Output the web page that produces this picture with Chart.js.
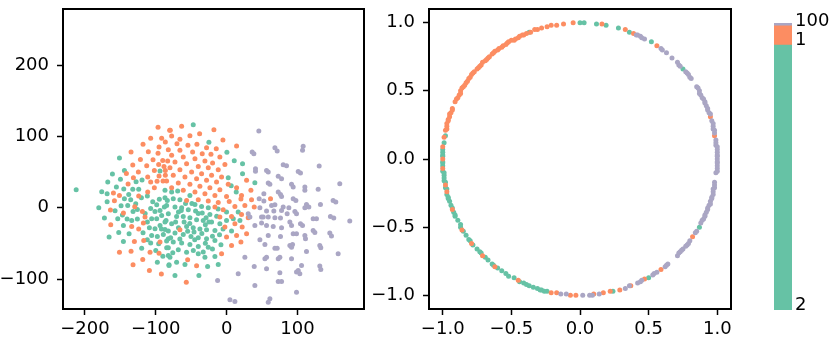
<!DOCTYPE html>
<html>
<head>
<meta charset="utf-8">
<script src="https://cdn.jsdelivr.net/npm/chart.js@4.4.1/dist/chart.umd.min.js"></script>
<style>
  html, body { margin: 0; padding: 0; background: #fff; }
  #wrap { position: relative; width: 831px; height: 340px; overflow: hidden; }
  canvas { position: absolute; top: 0; }
</style>
</head>
<body>
<div id="wrap">
  <canvas id="chartTsne" width="370" height="340" style="left:0"></canvas>
  <canvas id="chartRing" width="390" height="340" style="left:370px"></canvas>
  <canvas id="chartBar" width="71" height="340" style="left:760px"></canvas>
</div>
<script>
/* ── data ─────────────────────────────────────────────────────── */
const classNames = ['2', '1', '100'];

// left panel: 2-d embedding, one list per class
const tsneGreen = [
  [-212.4,25.2],[-151.3,69.6],[-161.2,47.2],[-144.3,52.3],[-167.8,35.9],[-176.3,22.4],[-168.7,19.6],[-149.9,39.7],
  [-155.6,28.9],[-180.5,-0.1],[-168.7,8.3],[-172.5,-14.6],[-157.5,-4.3],[-165.9,-41.2],[-153.7,-15.5],[-145.7,-24.9],
  [-152.3,-34.7],[-145.7,-47.3],[-137.7,-36.5],[-140.5,-16.0],[-147.1,-10.4],[-149.0,2.7],[-144.3,12.6],[-145.2,26.1],
  [-138.2,18.6],[-132.5,25.7],[-127.8,36.4],[-119.4,38.8],[-124.1,25.7],[-120.3,14.0],[-128.3,5.5],[-135.4,11.2],
  [-139.6,3.2],[-132.1,-5.2],[-126.0,-2.4],[-126.0,-16.0],[-134.0,-17.8],[-119.9,-56.7],[-107.2,-49.6],[-97.8,-76.3],
  [-81.3,-80.0],[-111.9,16.3],[-104.3,8.3],[-98.7,4.1],[-107.2,-1.0],[-101.1,-5.2],[-94.0,-3.8],[-87.9,0.9],
  [-83.7,10.2],[-111.9,-20.2],[-105.8,-15.5],[-98.7,-15.5],[-91.7,-10.8],[-85.5,-17.8],[-109.0,-28.1],[-101.1,-29.5],
  [-94.0,-24.9],[-87.0,-30.5],[-105.8,-38.9],[-97.8,-40.3],[-89.3,-37.5],[-82.3,-43.6],[-95.9,-50.6],[-84.6,-56.2],
  [-82.3,-66.9],[-94.0,51.4],[-47.1,116.4],[-25.0,91.6],[0.4,77.6],[10.8,65.9],[22.5,61.7],[2.3,42.0],
  [22.5,47.6],[39.9,35.0],[6.5,30.8],[13.6,21.9],[-87.0,24.3],[-77.6,21.9],[-69.1,23.3],[-51.8,17.2],
  [-87.0,14.0],[-75.3,12.6],[-65.9,11.2],[-44.7,4.6],[-35.3,1.8],[-25.9,-0.1],[-84.7,3.2],[-72.9,0.9],
  [-63.5,-0.1],[-54.1,-2.9],[-43.8,-4.7],[-34.4,-7.5],[-23.6,-9.4],[-0.1,-6.1],[16.4,-6.1],[-82.3,-8.5],
  [-70.6,-12.2],[-61.2,-12.2],[-51.8,-14.1],[-42.4,-16.9],[-33.0,-17.8],[-21.2,-20.2],[-9.5,-22.5],[-0.1,-17.8],
  [9.4,-15.5],[18.8,-17.8],[-87.0,-20.2],[-77.6,-22.5],[-56.5,-26.3],[-47.1,-28.1],[-37.7,-30.0],[-28.3,-30.9],
  [-16.5,-31.9],[7.0,-32.8],[-82.3,-32.8],[-72.9,-35.6],[-61.2,-37.5],[-50.3,-40.3],[-40.0,-42.2],[-28.3,-43.6],
  [-16.5,-45.9],[-84.7,-46.8],[-75.3,-48.2],[-63.5,-49.6],[-51.8,-51.5],[-40.0,-54.3],[-25.9,-55.3],[-82.3,-56.2],
  [-68.2,-59.0],[-56.5,-62.3],[-40.0,-64.6],[-30.6,-69.3],[-16.5,-68.4],[-80.0,-69.3],[-70.6,-76.3],[-58.8,-79.6],
  [-81.4,-81.0],[-72.9,-95.0],[-39.1,-95.0],[-26.8,-82.4],[-11.8,-79.6],[-60.0,-20.0],[-30.0,-24.0],[-20.0,-40.0],
  [-45.0,-45.0],[-66.0,-44.0],[-55.0,-33.0],[-35.0,-36.0],[-10.0,-38.0],[-68.0,-28.0],[-47.0,-60.0],[-33.0,-62.0],
  [-25.0,-20.0],[-5.0,-30.0],[-58.0,6.0],[-40.0,-8.0],[-14.0,-12.0],[-115.0,-8.0],[-118.0,-35.0],[-112.0,-45.0],
  [-100.0,-60.0],[-90.0,-68.0],[-76.0,-63.0],[-92.0,-30.0],[-79.0,-42.0],[-64.0,-4.0],[-49.0,6.0],[-30.0,-50.0],
  [-20.0,-58.0],[-8.0,-52.0],[-12.0,-2.0],[-29.0,-14.0],[-52.0,-22.0],[-72.0,-20.0],[-95.0,12.0],[-68.0,-6.0],
  [-46.0,-34.0]
];
const tsneOrange = [
  [-96.8,112.6],[-80.4,108.4],[-118.0,88.8],[-107.2,97.2],[-91.7,97.2],[-86.5,92.1],[-134.9,78.0],[-110.5,78.5],
  [-95.4,85.1],[-96.8,76.2],[-121.7,67.7],[-103.9,67.3],[-90.2,66.3],[-83.2,65.4],[-132.5,59.8],[-112.8,58.9],
  [-95.9,60.7],[-88.4,57.9],[-141.5,48.1],[-124.6,50.0],[-102.0,52.3],[-86.5,52.3],[-131.6,42.0],[-111.4,43.0],
  [-95.4,44.4],[-86.5,45.3],[-139.1,33.1],[-107.2,35.9],[-98.2,36.9],[-89.8,37.3],[-159.8,20.5],[-151.3,17.2],
  [-158.4,9.7],[-124.1,16.3],[-164.0,-3.3],[-145.7,-7.5],[-129.7,1.3],[-118.9,-5.2],[-163.6,-23.9],[-134.0,-26.3],
  [-124.1,-30.0],[-117.5,-21.6],[-115.2,-13.2],[-130.2,-47.3],[-117.0,-45.9],[-94.0,-48.2],[-151.3,-62.3],[-134.9,-60.9],
  [-118.4,-72.6],[-108.1,-62.3],[-95.4,-63.7],[-132.1,-80.0],[-109.0,-88.0],[-92.1,-93.1],[-102.0,28.0],[-111.4,21.9],
  [-63.5,114.0],[-17.9,109.4],[-79.5,108.4],[-77.6,100.5],[-51.8,101.0],[-38.1,103.8],[-5.2,94.9],[-65.9,95.8],
  [-70.1,89.7],[-54.6,87.4],[-41.9,88.8],[-28.3,84.1],[-14.6,82.7],[14.1,86.5],[-82.3,81.3],[-65.9,80.4],
  [-48.0,78.0],[-34.4,75.7],[-22.1,74.8],[-9.5,71.0],[-77.6,73.4],[-61.2,71.0],[-44.7,68.7],[-30.6,65.4],
  [-19.8,62.6],[-2.4,60.7],[-72.9,64.0],[-56.5,61.7],[-40.0,57.9],[-25.9,56.1],[-11.8,53.3],[-80.0,56.1],
  [-65.9,53.3],[-49.4,50.0],[-35.3,47.6],[-21.2,45.3],[-7.1,43.0],[-75.3,45.3],[-58.8,43.0],[-42.4,40.6],
  [-28.3,38.3],[-14.2,35.9],[2.3,32.7],[28.2,38.3],[-84.7,37.3],[-68.2,34.5],[-51.8,32.7],[-37.7,29.9],
  [-23.6,28.0],[-9.5,25.2],[14.1,28.0],[-77.6,28.0],[-61.2,24.3],[-44.7,21.9],[-30.6,19.6],[-16.5,17.2],
  [-0.1,15.8],[21.1,17.2],[34.3,24.3],[-56.5,10.2],[-40.0,11.2],[-25.9,9.3],[-11.8,7.4],[3.7,8.8],
  [20.2,12.1],[35.2,11.2],[-16.5,0.9],[-4.8,-2.9],[11.7,1.8],[25.8,3.2],[39.0,0.9],[-9.5,-13.2],
  [7.0,-12.2],[21.1,-9.4],[30.5,-14.1],[-2.4,-27.2],[11.7,-22.5],[22.0,-27.2],[-65.9,-30.9],[-0.1,-41.2],
  [14.1,-38.9],[28.2,-36.5],[7.0,-52.9],[20.2,-48.2],[-7.1,-64.6],[-55.0,-73.0],[-42.4,-81.5],[-56.9,-104.4],
  [62.0,12.6]
];
const tsnePurple = [
  [45.5,107.5],[36.1,78.0],[38.5,75.7],[40.8,54.7],[40.8,51.0],[52.6,19.6],[46.0,12.6],[47.0,-0.1],
  [30.5,-8.5],[32.9,-13.2],[49.3,-13.2],[39.9,-24.9],[47.0,-45.0],[25.8,-69.3],[39.0,-82.4],[16.4,-92.7],
  [-12.7,-102.0],[39.9,-109.0],[4.7,-129.2],[11.7,-131.5],[68.2,84.1],[71.4,79.4],[108.1,86.0],[107.2,80.4],
  [79.9,60.3],[84.6,58.9],[56.4,52.3],[58.8,50.0],[101.1,50.9],[104.3,48.6],[130.7,58.4],[72.9,43.9],
  [77.6,40.6],[58.8,34.5],[61.1,32.7],[91.7,32.7],[94.0,28.9],[110.5,28.9],[110.5,24.3],[129.3,25.7],
  [159.8,33.6],[72.9,21.9],[76.1,18.6],[77.6,15.8],[94.0,12.6],[97.8,10.2],[52.6,9.3],[63.5,3.2],
  [68.2,4.1],[79.9,0.9],[87.9,-0.1],[77.6,-3.8],[96.4,-5.2],[98.7,-8.5],[112.8,4.6],[116.1,0.9],
  [110.5,-0.1],[132.5,4.6],[150.4,10.2],[154.2,7.9],[56.4,-4.7],[66.7,-4.7],[51.7,-13.2],[58.8,-13.2],
  [68.2,-14.1],[76.1,-14.6],[85.5,-8.5],[89.3,-20.2],[91.7,-24.9],[104.3,-22.5],[107.2,-24.9],[122.2,-15.5],
  [126.9,-15.5],[146.6,-12.2],[151.3,-14.6],[173.9,-18.8],[49.4,-21.6],[56.4,-24.9],[65.8,-26.3],[77.6,-28.1],
  [94.0,-36.5],[98.7,-36.5],[110.5,-38.9],[111.4,-43.6],[122.2,-31.9],[124.6,-34.7],[145.7,-35.6],[148.1,-39.8],
  [58.8,-38.9],[76.1,-40.3],[54.1,-51.5],[68.2,-56.7],[71.4,-56.7],[89.3,-52.9],[93.1,-51.5],[91.7,-55.3],
  [112.8,-61.3],[131.6,-52.9],[133.0,-56.2],[157.5,-64.6],[56.4,-69.3],[54.1,-71.6],[72.9,-71.6],[75.2,-69.3],
  [91.7,-71.6],[105.8,-81.0],[98.7,-90.3],[103.4,-92.7],[101.1,-88.0],[75.2,-91.3],[131.6,-81.9],[133.0,-86.6],
  [56.4,-85.7],[72.9,-103.4],[77.6,-103.4],[98.7,-118.4],[61.1,-127.8],[58.8,-132.4]
];

// right panel: normalised embedding, points on the unit circle
const ringGreen = [
  [0.00,1.00],[0.03,1.00],[0.12,0.99],[0.19,0.98],[0.28,0.96],[0.36,0.93],[0.52,0.86],[0.75,0.66],
  [-0.37,0.93],[-0.98,0.17],[-0.99,0.12],[-1.00,0.05],[-1.00,0.02],[0.87,-0.50],[0.50,-0.87],[0.24,-0.97],
  [-0.24,-0.97],[-0.28,-0.96],[-0.31,-0.95],[-0.34,-0.94],[-0.37,-0.93],[-0.41,-0.91],[-0.44,-0.90],[-0.48,-0.87],
  [-0.52,-0.86],[-0.54,-0.84],[-0.57,-0.82],[-0.60,-0.80],[-0.64,-0.77],[-0.67,-0.74],[-0.69,-0.72],[-0.73,-0.68],
  [-0.75,-0.66],[-0.78,-0.63],[-0.81,-0.59],[-0.83,-0.56],[-0.85,-0.53],[-0.87,-0.48],[-0.89,-0.45],[-0.91,-0.42],
  [-0.92,-0.39],[-0.94,-0.34],[-0.95,-0.31],[-0.96,-0.28],[-0.98,-0.21],[-0.99,-0.16],[-0.99,-0.12],[-1.00,-0.09],
  [-1.00,-0.03],[-0.26,-0.97],[-0.29,-0.96],[-0.39,-0.92],[-0.63,-0.78],[-0.72,-0.69],[-0.80,-0.60],[-0.87,-0.50],
  [-0.91,-0.41],[-0.93,-0.36],[-0.96,-0.29],[-0.97,-0.26],[-0.97,-0.22],[-0.98,-0.17],[-0.99,-0.14],[-0.99,-0.10],
  [-1.00,-0.05],[-1.00,-0.02],[-1.00,0.07],[-1.00,0.03]
];
const ringOrange = [
  [0.56,0.83],[0.39,0.92],[0.33,0.95],[0.16,0.99],[-0.05,1.00],[-0.12,0.99],[-0.17,0.98],[-0.21,0.98],
  [-0.24,0.97],[-0.28,0.96],[-0.31,0.95],[-0.36,0.93],[-0.41,0.91],[-0.44,0.90],[-0.47,0.88],[-0.50,0.87],
  [-0.53,0.85],[-0.56,0.83],[-0.59,0.81],[-0.62,0.79],[-0.64,0.77],[-0.67,0.74],[-0.69,0.72],[-0.72,0.69],
  [-0.74,0.67],[-0.77,0.64],[-0.79,0.62],[-0.81,0.59],[-0.83,0.56],[-0.85,0.53],[-0.87,0.50],[-0.88,0.47],
  [-0.90,0.44],[-0.93,0.37],[-0.94,0.34],[-0.95,0.31],[-0.96,0.28],[-0.97,0.24],[-0.98,0.21],[-0.99,0.16],
  [-1.00,0.09],[-1.00,0.00],[0.95,0.31],[0.98,0.17],[0.82,-0.57],[0.59,-0.81],[0.47,-0.88],[0.37,-0.93],
  [0.29,-0.96],[0.22,-0.97],[0.17,-0.98],[0.10,-0.99],[-0.03,-1.00],[-0.07,-1.00],[-0.17,-0.98],[-0.21,-0.98],
  [-0.45,-0.89],[-0.62,-0.79],[-0.71,-0.71],[-0.79,-0.62],[-0.86,-0.52],[-0.93,-0.37],[-0.97,-0.24],[-0.98,-0.19],
  [-1.00,-0.07],[-0.33,0.95],[-0.39,0.92],[-0.42,0.91],[-0.45,0.89],[-0.48,0.87],[-0.52,0.86],[-0.54,0.84],
  [-0.57,0.82],[-0.60,0.80],[-0.63,0.78],[-0.66,0.75],[-0.68,0.73],[-0.71,0.71],[-0.73,0.68],[-0.75,0.66],
  [-0.78,0.63],[-0.80,0.60],[-0.82,0.57],[-0.84,0.54],[-0.86,0.52],[-0.87,0.48],[-0.89,0.45],[-0.91,0.42],
  [-0.93,0.36],[-0.95,0.33],[-0.96,0.29],[-0.97,0.26],[-0.97,0.22]
];
const ringPurple = [
  [0.41,0.91],[0.42,0.91],[0.44,0.90],[0.45,0.89],[0.47,0.88],[0.59,0.81],[0.60,0.80],[0.63,0.78],
  [0.67,0.74],[0.72,0.69],[0.73,0.68],[0.77,0.64],[0.79,0.62],[0.81,0.59],[0.85,0.53],[0.87,0.50],
  [0.88,0.47],[0.90,0.44],[0.91,0.41],[0.93,0.36],[0.94,0.34],[0.96,0.28],[0.97,0.24],[0.98,0.21],
  [0.99,0.14],[0.99,0.10],[1.00,0.07],[1.00,0.03],[1.00,0.00],[1.00,-0.03],[1.00,-0.07],[0.99,-0.10],
  [0.98,-0.17],[0.98,-0.21],[0.97,-0.24],[0.96,-0.28],[0.95,-0.31],[0.94,-0.34],[0.93,-0.37],[0.91,-0.41],
  [0.90,-0.44],[0.88,-0.47],[0.85,-0.53],[0.84,-0.54],[0.80,-0.60],[0.78,-0.63],[0.75,-0.66],[0.73,-0.68],
  [0.71,-0.71],[0.64,-0.77],[0.62,-0.79],[0.56,-0.83],[0.53,-0.85],[0.45,-0.89],[0.44,-0.90],[0.42,-0.91],
  [0.36,-0.93],[0.33,-0.95],[0.14,-0.99],[0.09,-1.00],[0.07,-1.00],[0.02,-1.00],[-0.10,-0.99],[-0.14,-0.99],
  [0.86,0.52],[0.87,0.48],[0.89,0.45],[0.91,0.42],[0.92,0.39],[0.93,0.37],[0.95,0.33],[0.97,0.26],
  [0.97,0.22],[0.98,0.19],[0.99,0.12],[1.00,0.09],[1.00,0.05],[1.00,0.02],[1.00,-0.02],[1.00,-0.05],
  [1.00,-0.09],[0.98,-0.19],[0.97,-0.22],[0.97,-0.26],[0.96,-0.29],[0.95,-0.33],[0.93,-0.36],[0.92,-0.39],
  [0.91,-0.42],[0.89,-0.45],[0.79,-0.62],[0.77,-0.64],[0.74,-0.67],[0.72,-0.69],[0.63,-0.78],[0.54,-0.84],
  [0.80,0.60],[0.78,0.63],[0.71,0.71]
];

// colour legend strip: share of each class (bottom to top)
const barShares = [92.3, 6.7, 1.0];

// axis ticks
const tsneXTicks = [-200, -100, 0, 100];
const tsneYTicks = [-100, 0, 100, 200];
const ringTicks  = [-1, -0.5, 0, 0.5, 1];

/* ── style ────────────────────────────────────────────────────── */
const C = {
    green:  '#66c2a5',
    orange: '#fc8d62',
    purple: '#aaa6c4',
    ink:    '#000000',
};
const FONT = { family: "'DejaVu Sans', sans-serif", size: 18 };

Chart.defaults.font.family = FONT.family;
Chart.defaults.font.size   = FONT.size;
Chart.defaults.color       = C.ink;

/* ── helpers ──────────────────────────────────────────────────── */
const toPts = arr => arr.map(p => ({ x: p[0], y: p[1] }));
const minus = s => String(s).replace('-', '\u2212');

const framePlugin = {
    id: 'frame',
    afterDraw(chart) {
        const { ctx, chartArea: a } = chart;
        ctx.save();
        ctx.strokeStyle = C.ink;
        ctx.lineWidth = 2;
        ctx.strokeRect(a.left, a.top, a.right - a.left, a.bottom - a.top);
        ctx.restore();
    }
};

function axis(min, max, ticks, fmt, fitSize, horizontal) {
    return {
        type: 'linear',
        min, max,
        afterBuildTicks: s => { s.ticks = ticks.map(v => ({ value: v })); },
        afterFit: s => {
            if (horizontal) { s.height = fitSize; s.paddingLeft = 0; s.paddingRight = 0; }
            else { s.width = fitSize; s.paddingTop = 0; s.paddingBottom = 0; }
        },
        border: { display: false },
        grid: {
            drawOnChartArea: false,
            drawTicks: true,
            tickLength: 6,
            tickWidth: 1.5,
            tickColor: C.ink,
        },
        ticks: {
            color: C.ink,
            padding: horizontal ? 4 : 8,
            maxRotation: 0,
            callback: v => minus(fmt(v)),
        },
    };
}

function dataset(pts, color) {
    return {
        data: toPts(pts),
        backgroundColor: color,
        borderWidth: 0,
        pointRadius: 2.5,
        pointHoverRadius: 2.5,
    };
}

function scatter(id, sets, xs, ys, padding) {
    new Chart(document.getElementById(id), {
        type: 'scatter',
        data: { datasets: sets },
        options: {
            responsive: false,
            animation: false,
            devicePixelRatio: 1,
            layout: { padding },
            plugins: { legend: { display: false }, tooltip: { enabled: false } },
            scales: { x: xs, y: ys },
        },
        plugins: [framePlugin],
    });
}

/* ── left: embedding ──────────────────────────────────────────── */
scatter('chartTsne',
    [dataset(tsnePurple, C.purple), dataset(tsneOrange, C.orange), dataset(tsneGreen, C.green)],
    axis(-231, 194, tsneXTicks, v => v.toFixed(0), 31, true),
    axis(-142, 278.5, tsneYTicks, v => v.toFixed(0), 63, false),
    { top: 9, right: 6, left: 0, bottom: 0 });

/* ── right: unit circle ───────────────────────────────────────── */
scatter('chartRing',
    [dataset(ringPurple, C.purple), dataset(ringOrange, C.orange), dataset(ringGreen, C.green)],
    axis(-1.1, 1.1, ringTicks, v => v.toFixed(1), 31, true),
    axis(-1.1, 1.1, ringTicks, v => v.toFixed(1), 59, false),
    { top: 9, right: 29, left: 0, bottom: 0 });

/* ── class strip ──────────────────────────────────────────────── */
(function() {
    const barColors = [C.green, C.orange, C.purple];
    const labelPlugin = {
        id: 'stripLabels',
        afterDraw(chart) {
            const { ctx, chartArea: a, scales: { y } } = chart;
            ctx.save();
            ctx.fillStyle = C.ink;
            ctx.font = `${FONT.size}px ${FONT.family}`;
            ctx.textAlign = 'left';
            ctx.textBaseline = 'alphabetic';
            let base = 0;
            barShares.forEach((v, i) => {
                ctx.fillText(classNames[i], a.right + 3, y.getPixelForValue(base));
                base += v;
            });
            ctx.restore();
        }
    };

    new Chart(document.getElementById('chartBar'), {
        type: 'bar',
        data: {
            labels: [''],
            datasets: barShares.map((v, i) => ({
                data: [v],
                backgroundColor: barColors[i],
                borderWidth: 0,
                barPercentage: 1,
                categoryPercentage: 1,
            })),
        },
        options: {
            responsive: false,
            animation: false,
            devicePixelRatio: 1,
            layout: { padding: { left: 14, right: 39, top: 23, bottom: 30 } },
            plugins: { legend: { display: false }, tooltip: { enabled: false } },
            scales: {
                x: { stacked: true, display: false },
                y: { stacked: true, display: false, min: 0, max: 100 },
            },
        },
        plugins: [labelPlugin],
    });
})();
</script>
</body>
</html>
